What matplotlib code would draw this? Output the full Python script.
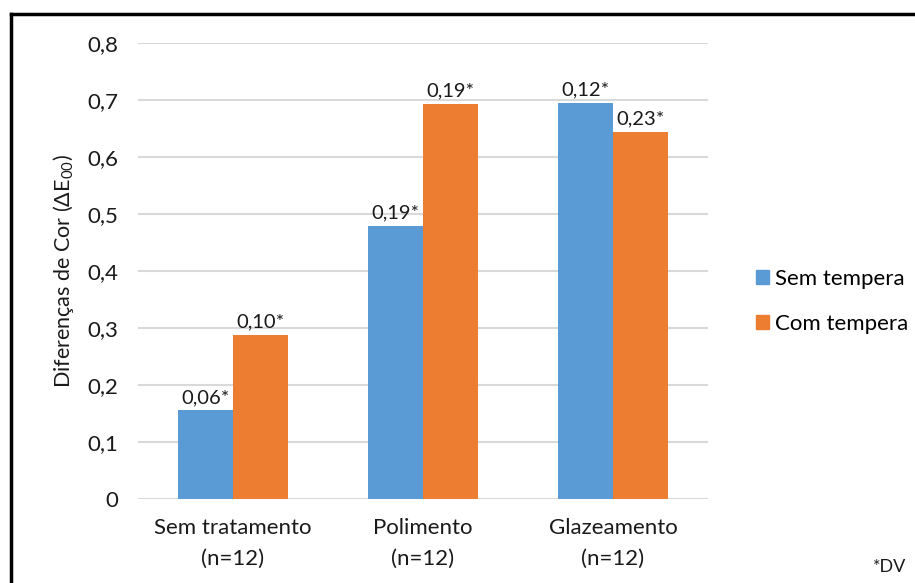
import numpy as np
import matplotlib.pyplot as plt
from matplotlib.patches import Patch
from matplotlib.lines import Line2D

plt.rcParams['font.family'] = ['Lato', 'DejaVu Sans']
plt.rcParams['mathtext.fontset'] = 'custom'
plt.rcParams['mathtext.rm'] = 'Lato'
plt.rcParams['mathtext.it'] = 'Lato:italic'

# Data
groups = ['Sem tratamento\n(n=12)', 'Polimento\n(n=12)', 'Glazeamento\n(n=12)']
sem_tempera = [0.156, 0.479, 0.695]
com_tempera = [0.288, 0.693, 0.644]
sem_sd = ['0,06*', '0,19*', '0,12*']
com_sd = ['0,10*', '0,19*', '0,23*']
yticks = [0, 0.1, 0.2, 0.3, 0.4, 0.5, 0.6, 0.7, 0.8]
ytick_labels = ['0', '0,1', '0,2', '0,3', '0,4', '0,5', '0,6', '0,7', '0,8']

blue = '#5b9bd5'
orange = '#ed7d31'

fig = plt.figure(figsize=(9.15, 5.83), dpi=100)
ax = fig.add_axes([0.1508, 0.1441, 0.6230, 0.7823])

x = np.arange(len(groups))
w = 0.29
b1 = ax.bar(x - w / 2, sem_tempera, w, color=blue, label='Sem tempera', zorder=3)
b2 = ax.bar(x + w / 2, com_tempera, w, color=orange, label='Com tempera', zorder=3)

# standard deviation labels above bars
for bars, labs in [(b1, sem_sd), (b2, com_sd)]:
    for bar, lab in zip(bars, labs):
        ax.annotate(lab, (bar.get_x() + bar.get_width() / 2, bar.get_height()),
                    xytext=(0, 3), textcoords='offset points',
                    ha='center', va='bottom', fontsize=14.5, color='#1a1a1a')

ax.set_xlim(-0.5, 2.5)
ax.set_ylim(0, 0.8)
ax.set_yticks(yticks)
ax.set_yticklabels(ytick_labels)
ax.set_xticks(x)
ax.set_xticklabels(groups, linespacing=1.65)
ax.tick_params(axis='both', length=0, labelsize=16, colors='#1a1a1a')
ax.tick_params(axis='y', pad=14)
ax.tick_params(axis='x', pad=14)
ax.grid(axis='y', color='#d9d9d9', linewidth=1.5, zorder=0)
for s in ax.spines.values():
    s.set_visible(False)

ax.set_ylabel('Diferenças de Cor (ΔE$_{00}$)', fontsize=15.5, color='#1a1a1a', labelpad=8)

handles = [Patch(color=blue), Patch(color=orange)]
fig.legend(handles, ['Sem tempera', 'Com tempera'], loc='center left',
           bbox_to_anchor=(0.8045, 0.483), frameon=False, fontsize=16,
           handlelength=0.6, handleheight=0.6, handletextpad=0.25, labelspacing=1.15)

fig.text(0.99, 0.027, '*DV', ha='right', va='center', fontsize=13, color='#1a1a1a')

# outer frame
fig.add_artist(Line2D([0.012, 0.012], [0, 0.976], color='black', linewidth=2.5))
fig.add_artist(Line2D([0.012, 1.0], [0.976, 0.976], color='black', linewidth=2.5))

fig.savefig('out.png', dpi=100)
